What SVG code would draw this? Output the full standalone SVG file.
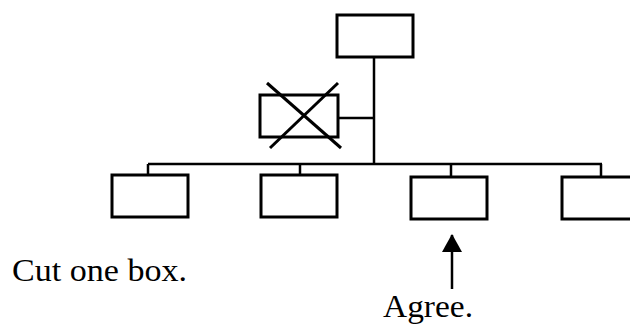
<svg xmlns="http://www.w3.org/2000/svg" width="630" height="326" viewBox="0 0 630 326">
<style>
.box{fill:#fff;stroke:#000;stroke-width:3}
.ln{stroke:#000;stroke-width:2.5;fill:none}
.x{stroke:#000;stroke-width:3}
text{font-family:"Liberation Serif","Times New Roman",serif;font-size:31px;fill:#000}
</style>
<defs>
<marker id="ah" markerWidth="18" markerHeight="20" refX="17" refY="10" orient="auto" markerUnits="userSpaceOnUse">
<path d="M0,0 L18,10 L0,20 Z" fill="#000"/>
</marker>
</defs>
<g id="connectors">
<line class="ln" x1="374" y1="57" x2="374" y2="164"/>
<line class="ln" x1="338" y1="118" x2="374" y2="118"/>
<line class="ln" x1="148" y1="164" x2="602" y2="164"/>
<line class="ln" x1="148" y1="164" x2="148" y2="175"/>
<line class="ln" x1="300" y1="164" x2="300" y2="175"/>
<line class="ln" x1="451" y1="164" x2="451" y2="177"/>
<line class="ln" x1="601" y1="164" x2="601" y2="177"/>
<line class="ln" x1="452" y1="289" x2="452" y2="235" marker-end="url(#ah)"/>
</g>
<g id="top"><rect class="box" x="337" y="15" width="76" height="42"/></g>
<g id="cut">
<rect class="box" x="260" y="95" width="78" height="42"/>
<line class="x" x1="267" y1="83" x2="341" y2="148"/>
<line class="x" x1="338" y1="83" x2="270" y2="148"/>
</g>
<g id="b1"><rect class="box" x="112" y="175" width="76" height="42"/></g>
<g id="b2"><rect class="box" x="261" y="175" width="76" height="42"/></g>
<g id="b3"><rect class="box" x="411" y="177" width="76" height="42"/></g>
<g id="b4"><rect class="box" x="562" y="177" width="80" height="42"/></g>
<g id="labels">
<text x="12" y="281" textLength="175" lengthAdjust="spacingAndGlyphs">Cut one box.</text>
<text x="383" y="317" textLength="90" lengthAdjust="spacingAndGlyphs">Agree.</text>
</g>
</svg>
